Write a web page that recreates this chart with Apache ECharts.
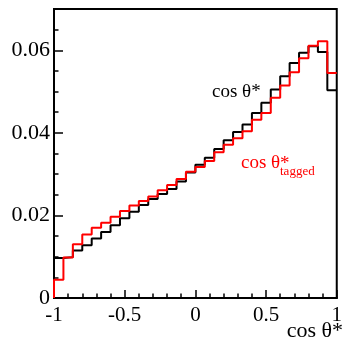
<!DOCTYPE html>
<html>
<head>
<meta charset="utf-8">
<script src="https://cdn.jsdelivr.net/npm/echarts@6/dist/echarts.min.js"></script>
<style>
  html, body { margin: 0; padding: 0; background: #fff; }
  #chart { width: 345px; height: 343px; }
</style>
</head>
<body>
<div id="chart"></div>
<script>
// Histogram binning in cos theta*
const nBins = 30;
const xLow = -1;
const xHigh = 1;

// Normalised bin contents, one per bin from -1 to 1
const cosThetaAll = [
  0.0097, 0.0099, 0.0115, 0.0128, 0.0144, 0.0160, 0.0176, 0.0193, 0.0209, 0.0225,
  0.0240, 0.0252, 0.0264, 0.0282, 0.0304, 0.0323, 0.0340, 0.0361, 0.0382, 0.0402,
  0.0420, 0.0448, 0.0473, 0.0505, 0.0537, 0.0569, 0.0594, 0.0610, 0.0596, 0.0503
];
const cosThetaTagged = [
  0.0044, 0.0098, 0.0130, 0.0154, 0.0170, 0.0182, 0.0197, 0.0211, 0.0224, 0.0235,
  0.0246, 0.0261, 0.0274, 0.0288, 0.0306, 0.0317, 0.0332, 0.0353, 0.0371, 0.0387,
  0.0404, 0.0432, 0.0448, 0.0485, 0.0515, 0.0547, 0.0581, 0.0611, 0.0622, 0.0545
];

// Axis tick labels
const xTickLabels = ['-1', '-0.5', '0', '0.5', '1'];
const yTickLabels = ['0', '0.02', '0.04', '0.06'];

const binWidth = (xHigh - xLow) / nBins;

// Turn bin contents into step-line points (left edge of each bin, closing at xHigh)
function histPoints(values) {
  const pts = [[xLow, 0]];
  values.forEach((v, i) => pts.push([xLow + i * binWidth, v]));
  pts.push([xHigh, values[values.length - 1]]);
  return pts;
}

const serif = 'Liberation Serif, Times New Roman, serif';
const gridRect = { left: 54, right: 1, top: 9, bottom: 45 };

const chart = echarts.init(document.getElementById('chart'), null, { renderer: 'canvas' });

chart.setOption({
  animation: false,
  backgroundColor: '#fff',
  grid: [
    Object.assign({ show: true, borderColor: '#000', borderWidth: 2, backgroundColor: 'transparent' }, gridRect),
    Object.assign({ show: false }, gridRect)
  ],
  xAxis: [
    {
      gridIndex: 0,
      type: 'value', min: xLow, max: xHigh, interval: 0.5,
      axisLine: { show: true, onZero: false, lineStyle: { color: '#000', width: 2 } },
      axisTick: { show: true, inside: true, length: 8, lineStyle: { color: '#000', width: 1.5 } },
      minorTick: { show: true, splitNumber: 5, length: 4.5, lineStyle: { color: '#000', width: 1.5 } },
      splitLine: { show: false },
      minorSplitLine: { show: false },
      axisLabel: {
        margin: 7, color: '#000', fontFamily: serif, fontSize: 21,
        formatter: v => {
          const i = Math.round((v - xLow) / 0.5);
          return xTickLabels[i] !== undefined ? xTickLabels[i] : '';
        }
      }
    },
    {
      gridIndex: 1,
      type: 'value', min: xLow, max: xHigh, show: false,
      axisLine: { onZero: false }
    }
  ],
  yAxis: [
    {
      gridIndex: 0,
      type: 'value', min: 0, max: 0.07, interval: 0.02,
      axisLine: { show: true, onZero: false, lineStyle: { color: '#000', width: 2 } },
      axisTick: { show: true, inside: true, length: 9, lineStyle: { color: '#000', width: 1.5 } },
      splitLine: { show: false },
      axisLabel: {
        margin: 4, color: '#000', fontFamily: serif, fontSize: 22,
        showMaxLabel: false,
        formatter: v => {
          const i = Math.round(v / 0.02);
          return Math.abs(v - i * 0.02) < 1e-9 && yTickLabels[i] !== undefined ? yTickLabels[i] : '';
        }
      }
    },
    {
      // minor ticks every 0.005
      gridIndex: 1,
      type: 'value', min: 0, max: 0.07, interval: 0.005,
      axisLine: { show: false, onZero: false },
      axisTick: { show: true, inside: true, length: 4.5, lineStyle: { color: '#000', width: 1.5 } },
      axisLabel: { show: false },
      splitLine: { show: false }
    }
  ],
  series: [
    {
      name: 'cos θ*',
      type: 'line', step: 'end', xAxisIndex: 0, yAxisIndex: 0,
      data: histPoints(cosThetaAll),
      showSymbol: false, symbol: 'none',
      lineStyle: { color: '#000', width: 2 },
      z: 3
    },
    {
      name: 'cos θ*_tagged',
      type: 'line', step: 'end', xAxisIndex: 0, yAxisIndex: 0,
      data: histPoints(cosThetaTagged),
      showSymbol: false, symbol: 'none',
      lineStyle: { color: '#ff0000', width: 2 },
      z: 4
    }
  ],
  graphic: [
    {
      type: 'text', left: 212, top: 83,
      style: { text: 'cos θ*', fill: '#000', font: '19px ' + serif }
    },
    {
      type: 'text', left: 241, top: 154,
      style: { text: 'cos θ', fill: '#ff0000', font: '19px ' + serif }
    },
    {
      type: 'text', left: 280, top: 155,
      style: { text: '*', fill: '#ff0000', font: '19px ' + serif }
    },
    {
      type: 'text', left: 280, top: 165,
      style: { text: 'tagged', fill: '#ff0000', font: '13px ' + serif }
    },
    {
      type: 'text', right: 2, top: 320,
      style: { text: 'cos θ*', fill: '#000', font: '22px ' + serif }
    }
  ]
});
</script>
</body>
</html>
